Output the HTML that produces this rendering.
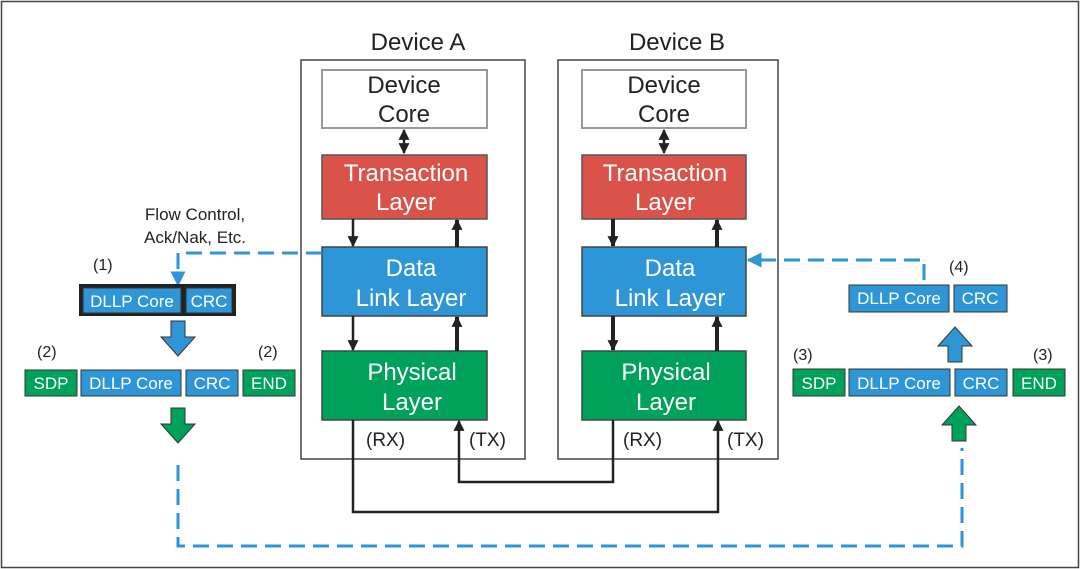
<!DOCTYPE html>
<html><head><meta charset="utf-8"><style>
html,body{margin:0;padding:0;background:#fff}
svg{display:block}
text{font-family:"Liberation Sans",sans-serif}
</style></head><body>
<svg width="1080" height="569" viewBox="0 0 1080 569" xmlns="http://www.w3.org/2000/svg">
<defs>
<marker id="ah" viewBox="0 0 10 10" refX="9" refY="5" markerUnits="userSpaceOnUse" markerWidth="11" markerHeight="11" orient="auto-start-reverse"><path d="M0,0L10,5L0,10z" fill="#222"/></marker>
<marker id="ab" viewBox="0 0 10 10" refX="9" refY="5" markerUnits="userSpaceOnUse" markerWidth="15" markerHeight="15" orient="auto"><path d="M0,0L10,5L0,10z" fill="#2e96d6"/></marker>
</defs>
<rect x="1.5" y="1.5" width="1077" height="566" fill="#fff" stroke="#444" stroke-width="1.5"/>
<rect x="301" y="60" width="224" height="399" fill="none" stroke="#444" stroke-width="1.5"/>
<rect x="558" y="60" width="220" height="399" fill="none" stroke="#444" stroke-width="1.5"/>
<text x="418" y="50" font-size="24" text-anchor="middle" fill="#222">Device A</text>
<text x="677" y="50" font-size="24" text-anchor="middle" fill="#222">Device B</text>
<g font-size="24" text-anchor="middle">
<rect x="322" y="70" width="165" height="58" fill="#fff" stroke="#999" stroke-width="2"/>
<text x="404" y="93" fill="#222">Device</text><text x="404" y="122" fill="#222">Core</text>
<rect x="322" y="155" width="165" height="64" fill="#d9534a" stroke="#555" stroke-width="1.5"/>
<text x="406" y="181" fill="#fff">Transaction</text><text x="406" y="210" fill="#fff">Layer</text>
<rect x="322" y="247" width="165" height="69" fill="#2e96d6" stroke="#444" stroke-width="1.5"/>
<text x="411" y="276" fill="#fff">Data</text><text x="411" y="306" fill="#fff">Link Layer</text>
<rect x="322" y="351" width="165" height="69" fill="#00a15a" stroke="#444" stroke-width="1.5"/>
<text x="412" y="380" fill="#fff">Physical</text><text x="412" y="410" fill="#fff">Layer</text>
<rect x="582" y="70" width="164" height="58" fill="#fff" stroke="#999" stroke-width="2"/>
<text x="664" y="93" fill="#222">Device</text><text x="664" y="122" fill="#222">Core</text>
<rect x="582" y="155" width="164" height="64" fill="#d9534a" stroke="#555" stroke-width="1.5"/>
<text x="665" y="181" fill="#fff">Transaction</text><text x="665" y="210" fill="#fff">Layer</text>
<rect x="582" y="247" width="164" height="69" fill="#2e96d6" stroke="#444" stroke-width="1.5"/>
<text x="670" y="276" fill="#fff">Data</text><text x="670" y="306" fill="#fff">Link Layer</text>
<rect x="582" y="351" width="164" height="69" fill="#00a15a" stroke="#444" stroke-width="1.5"/>
<text x="666" y="380" fill="#fff">Physical</text><text x="666" y="410" fill="#fff">Layer</text>
</g>
<g stroke="#222" fill="none">
<line x1="404" y1="130" x2="404" y2="153" stroke-width="2.5" marker-start="url(#ah)" marker-end="url(#ah)"/>
<line x1="664" y1="130" x2="664" y2="153" stroke-width="2.5" marker-start="url(#ah)" marker-end="url(#ah)"/>
<line x1="353" y1="219" x2="353" y2="246" stroke-width="2.5" marker-end="url(#ah)"/>
<line x1="457" y1="247" x2="457" y2="220" stroke-width="4" marker-end="url(#ah)"/>
<line x1="353" y1="316" x2="353" y2="350" stroke-width="2.5" marker-end="url(#ah)"/>
<line x1="457" y1="351" x2="457" y2="317" stroke-width="4" marker-end="url(#ah)"/>
<line x1="613" y1="219" x2="613" y2="246" stroke-width="4" marker-end="url(#ah)"/>
<line x1="717" y1="247" x2="717" y2="220" stroke-width="4" marker-end="url(#ah)"/>
<line x1="613" y1="316" x2="613" y2="350" stroke-width="4" marker-end="url(#ah)"/>
<line x1="717" y1="351" x2="717" y2="317" stroke-width="4" marker-end="url(#ah)"/>
<polyline points="353,420 353,512 718,512 718,421" stroke-width="2.5" marker-end="url(#ah)"/>
<polyline points="613,420 613,482 459,482 459,421" stroke-width="2.5" marker-end="url(#ah)"/>
</g>
<g font-size="19" fill="#222">
<text x="366" y="446">(RX)</text><text x="469" y="446">(TX)</text>
<text x="623" y="446">(RX)</text><text x="727" y="446">(TX)</text>
</g>
<text x="195" y="220" font-size="17" text-anchor="middle" fill="#222">Flow Control,</text>
<text x="195" y="243" font-size="17" text-anchor="middle" fill="#222">Ack/Nak, Etc.</text>
<g stroke="#2e96d6" stroke-width="3" fill="none" stroke-dasharray="16,8">
<polyline points="322,253 178,253 178,285" marker-end="url(#ab)"/>
<polyline points="178,465 178,546 962,546 962,448"/>
<polyline points="924,280 924,260 748,260" marker-end="url(#ab)"/>
</g>
<g font-size="16" fill="#222">
<text x="93" y="270">(1)</text><text x="37" y="357">(2)</text><text x="258" y="357">(2)</text>
<text x="793" y="360">(3)</text><text x="1033" y="360">(3)</text><text x="949" y="272">(4)</text>
</g>
<rect x="79" y="284" width="157" height="32" fill="#222"/>
<g stroke="#333" stroke-width="1">
<rect x="83" y="288" width="98" height="25" fill="#2e96d6"/>
<rect x="186" y="288" width="46" height="25" fill="#2e96d6"/>
<rect x="25" y="370" width="52" height="26" fill="#00a15a"/>
<rect x="81" y="370" width="100" height="26" fill="#2e96d6"/>
<rect x="186" y="370" width="52" height="26" fill="#2e96d6"/>
<rect x="243" y="370" width="52" height="26" fill="#00a15a"/>
<rect x="849" y="285" width="100" height="27" fill="#2e96d6"/>
<rect x="954" y="285" width="53" height="27" fill="#2e96d6"/>
<rect x="793" y="369" width="52" height="27" fill="#00a15a"/>
<rect x="849" y="369" width="101" height="27" fill="#2e96d6"/>
<rect x="955" y="369" width="52" height="27" fill="#2e96d6"/>
<rect x="1013" y="369" width="52" height="27" fill="#00a15a"/>
</g>
<g font-size="17" fill="#fff" text-anchor="middle">
<text x="132" y="307">DLLP Core</text><text x="209" y="307">CRC</text>
<text x="51" y="389">SDP</text><text x="131" y="389">DLLP Core</text><text x="212" y="389">CRC</text><text x="269" y="389">END</text>
<text x="899" y="304">DLLP Core</text><text x="980" y="304">CRC</text>
<text x="819" y="389">SDP</text><text x="899" y="389">DLLP Core</text><text x="981" y="389">CRC</text><text x="1039" y="389">END</text>
</g>
<g stroke="#333" stroke-width="1">
<path d="M171,321h14v16h10l-17,19l-17,-19h10z" fill="#2e96d6"/>
<path d="M171,408h14v16h10l-17,19l-17,-19h10z" fill="#00a15a"/>
<path d="M948,362h14v-16h10l-17,-19l-17,19h10z" fill="#2e96d6"/>
<path d="M952,441h14v-16h10l-17,-19l-17,19h10z" fill="#00a15a"/>
</g>
</svg>
</body></html>
